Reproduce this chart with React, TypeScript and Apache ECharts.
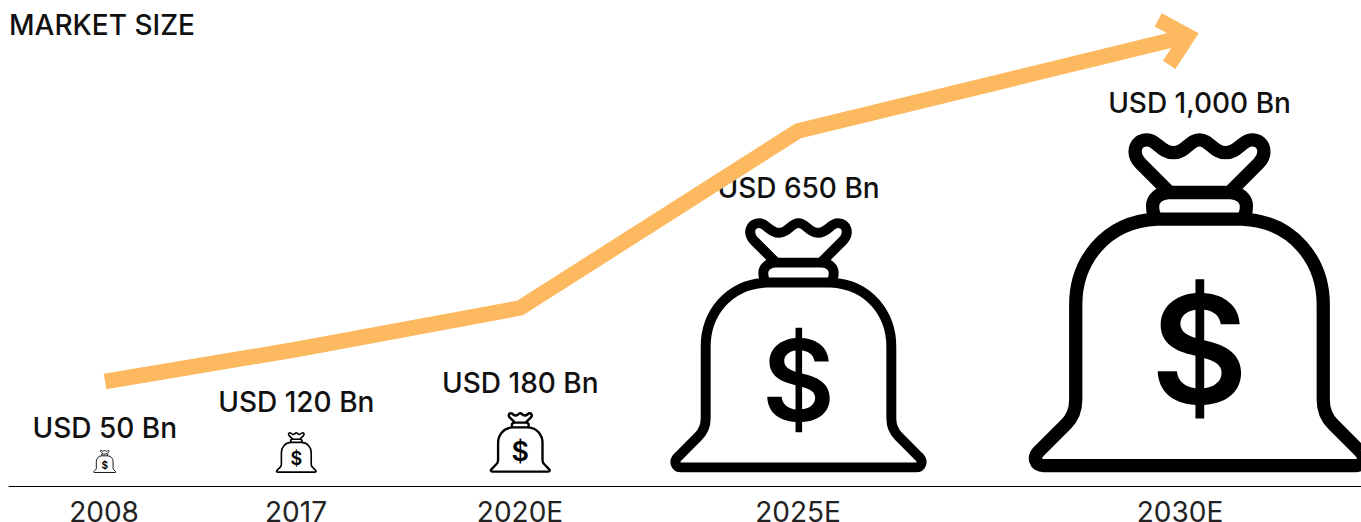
import React, { useEffect, useRef } from "react";
import * as echarts from "echarts";

const TITLE = "MARKET SIZE";
const years = ["2008", "2017", "2020E", "2025E", "2030E"];
const marketLabels = ["USD 50 Bn", "USD 120 Bn", "USD 180 Bn", "USD 650 Bn", "USD 1,000 Bn"];

// Horizontal scale of the picture (the years are not evenly spaced)
const yearSlots = [95, 287, 511, 789, 1171];
const trendX = [96, 287, 511, 789, 1179];
const trendY = [104.5, 136.5, 178, 355, 450];
const bagX = [95.7, 287.3, 511.3, 789.5, 1190.5];
const bagBase = [13, 13, 13, 13, 13];
const bagTop = [36, 54, 74, 268, 353];
const labelGap = [22, 30, 29, 30, 30];

const FONT = "Inter";
const ORANGE = "#FDB95F";

const BAG_PATH =
  "M37.5 25.3 C22 26 13.6 38 13.6 50.5 L13.6 78.5 C13.6 82.4 12 84.4 10.7 85.7 L2.9 93.5 C0.9 95.4 1.6 97.8 4.2 97.8 " +
  "L95.8 97.8 C98.4 97.8 99.1 95.4 97.1 93.5 L89.3 85.7 C88 84.4 86.4 82.4 86.4 78.5 L86.4 50.5 C86.4 38 78 26 62.5 25.3 Z " +
  "M37.5 25.3 C36.4 24.3 36.2 23 36.2 21.5 C36.2 19.5 38 17.5 41 17.5 L59 17.5 C62 17.5 63.8 19.5 63.8 21.5 C63.8 23 63.6 24.3 62.5 25.3 " +
  "M41.2 17.5 L32.6 8.9 C30 6.2 30.8 2 34.6 2 C37.5 2 38.5 5.8 42.4 5.8 C46 5.8 47 2 50 2 C53 2 54 5.8 57.6 5.8 " +
  "C61.5 5.8 62.5 2 65.4 2 C69.2 2 70 6.2 67.4 8.9 L58.8 17.5";

function renderBag(params: any, api: any) {
  const i = params.dataIndex;
  const base = api.coord([api.value(0), api.value(1)]);
  const top = api.coord([api.value(0), api.value(2)]);
  const size = base[1] - top[1];
  return {
    type: "group",
    children: [
      {
        type: "path",
        x: base[0] - size / 2,
        y: top[1],
        scaleX: size / 100,
        scaleY: size / 100,
        shape: { pathData: BAG_PATH },
        style: { fill: "none", stroke: "#000", lineWidth: 3.9, lineJoin: "round" },
      },
      {
        type: "text",
        x: base[0],
        y: top[1] + size * 0.635,
        style: {
          text: "$",
          fontFamily: FONT,
          fontWeight: 600,
          fontSize: size * 0.44,
          fill: "#000",
          align: "center",
          verticalAlign: "middle",
        },
      },
      {
        type: "text",
        x: base[0],
        y: top[1] - labelGap[i],
        style: {
          text: marketLabels[i],
          fontFamily: FONT,
          fontWeight: 500,
          fontSize: 28,
          fill: "#111",
          align: "center",
          verticalAlign: "middle",
        },
      },
    ],
  };
}

function renderArrow(_params: any, api: any) {
  const p = api.coord([api.value(0), api.value(1)]);
  return {
    type: "polyline",
    shape: {
      points: [
        [p[0] - 29.8, p[1] - 16.1],
        [p[0], p[1]],
        [p[0] - 18.8, p[1] + 28.9],
      ],
    },
    style: { fill: "none", stroke: ORANGE, lineWidth: 15, lineJoin: "miter", lineCap: "butt" },
  };
}

export default function App() {
  const ref = useRef<HTMLDivElement>(null);
  useEffect(() => {
    const chart = echarts.init(ref.current!, null, { renderer: "svg" });
    chart.setOption({
      animation: false,
      title: {
        text: TITLE,
        left: 9,
        top: 11,
        padding: 0,
        textStyle: { fontFamily: FONT, fontWeight: 500, fontSize: 28, color: "#111" },
      },
      grid: { left: 9, right: 0, top: 0, bottom: 36, outerBoundsMode: "none" },
      xAxis: {
        type: "value",
        min: 0,
        max: 1352,
        splitLine: { show: false },
        axisTick: { show: false },
        axisLine: { show: true, onZero: false, lineStyle: { color: "#000", width: 1 } },
        axisLabel: {
          customValues: yearSlots,
          formatter: (v: number) => years[yearSlots.indexOf(v)] ?? "",
          margin: 16,
          lineHeight: 20,
          fontFamily: FONT,
          fontWeight: 400,
          fontSize: 28,
          color: "#222",
        },
      },
      yAxis: { type: "value", min: 0, max: 486, show: false, splitLine: { show: false } },
      series: [
        {
          type: "line",
          data: trendX.map((x, i) => [x, trendY[i]]),
          symbol: "none",
          silent: true,
          lineStyle: { color: ORANGE, width: 15.5, cap: "butt", join: "miter" },
        },
        {
          type: "custom",
          silent: true,
          renderItem: renderArrow,
          data: [[trendX[4], trendY[4]]],
        },
        {
          type: "custom",
          silent: true,
          clip: false,
          renderItem: renderBag,
          data: bagX.map((x, i) => [x, bagBase[i], bagTop[i]]),
        },
      ],
    });
    return () => chart.dispose();
  }, []);
  return <div ref={ref} style={{ position: "absolute", left: 0, top: 0, width: 1361, height: 522 }} />;
}
